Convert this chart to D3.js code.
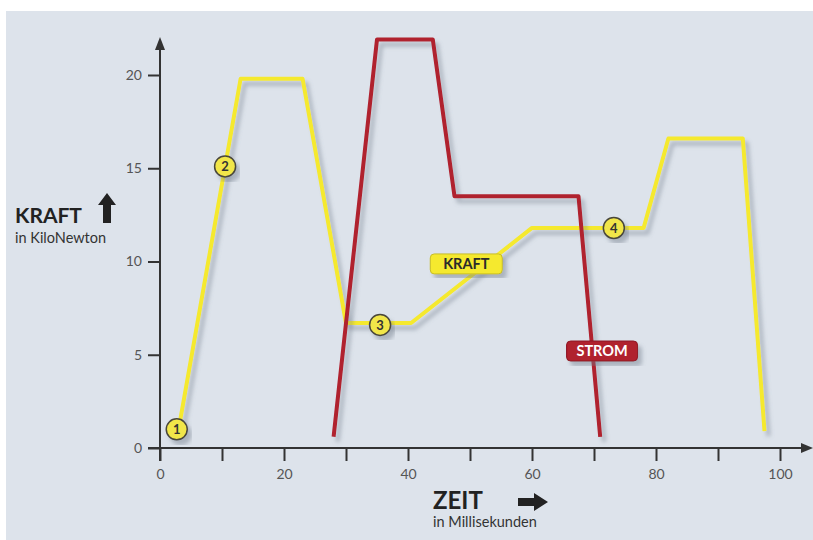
<!DOCTYPE html>
<html><head><meta charset="utf-8">
<script src="https://cdn.jsdelivr.net/npm/d3@7/dist/d3.min.js"></script>
<style>html,body{margin:0;padding:0;background:#fff;}svg{display:block;}</style>
</head><body><svg id="c" width="813" height="540"></svg>
<script>
// ---- data ----
const kraftTime  = [3, 13, 23, 30, 40.5, 60, 78, 82, 94, 97.5];
const kraftValue = [1.0, 19.8, 19.8, 6.7, 6.7, 11.8, 11.8, 16.6, 16.6, 0.9];
const stromTime  = [28, 35, 44, 47.5, 67.5, 71];
const stromValue = [0.6, 21.9, 21.9, 13.5, 13.5, 0.6];
const markerLabels = ["1", "2", "3", "4"];
const markerTime   = [2.7, 10.5, 35.5, 73.2];
const markerValue  = [1.0, 15.1, 6.6, 11.8];
const xTicks = [0, 10, 20, 30, 40, 50, 60, 70, 80, 90, 100];
const xTickLabels = ["0", "", "20", "", "40", "", "60", "", "80", "", "100"];
const yTicks = [0, 5, 10, 15, 20];
const seriesNames = ["KRAFT", "STROM"];

const FONT = "Lato, 'Open Sans', sans-serif";
const svg = d3.select("#c");
const x = d3.scaleLinear().domain([0, 100]).range([160, 780]);
const y = d3.scaleLinear().domain([0, 20]).range([448, 75]);

// background
svg.append("rect").attr("x", 6).attr("y", 11).attr("width", 807).attr("height", 529).attr("fill", "#dde3eb");

const defs = svg.append("defs");
const f = defs.append("filter").attr("id", "sh").attr("x", "-20%").attr("y", "-20%").attr("width", "140%").attr("height", "140%");
f.append("feDropShadow").attr("dx", 4).attr("dy", 5).attr("stdDeviation", 2.2)
  .attr("flood-color", "#6f7886").attr("flood-opacity", 0.45);

// axes
const axisCol = "#333";
const gx = svg.append("g").attr("transform", "translate(0,448)")
  .call(d3.axisBottom(x).tickValues(xTicks).tickSize(13).tickPadding(8)
    .tickFormat((d, i) => xTickLabels[i]));
const gy = svg.append("g").attr("transform", "translate(160,0)")
  .call(d3.axisLeft(y).tickValues(yTicks).tickSize(12).tickPadding(6));
[gx, gy].forEach(g => {
  g.select(".domain").remove();
  g.selectAll(".tick line").attr("stroke", axisCol).attr("stroke-width", 2);
  g.selectAll(".tick text").attr("fill", "#555").attr("font-size", 14).attr("font-family", FONT);
});
// axis lines with arrows
svg.append("line").attr("x1", 148).attr("x2", 804).attr("y1", 448).attr("y2", 448)
  .attr("stroke", axisCol).attr("stroke-width", 2);
svg.append("path").attr("d", "M813,448 L801,443 L801,453 Z").attr("fill", axisCol);
svg.append("line").attr("x1", 160).attr("x2", 160).attr("y1", 461).attr("y2", 46)
  .attr("stroke", axisCol).attr("stroke-width", 2);
svg.append("path").attr("d", "M160,37 L155,50 L165,50 Z").attr("fill", axisCol);

// lines
const line = d3.line().x(d => x(d[0])).y(d => y(d[1]));
const kraftPts = kraftTime.map((t, i) => [t, kraftValue[i]]);
const stromPts = stromTime.map((t, i) => [t, stromValue[i]]);
svg.append("path").datum(kraftPts).attr("d", line).attr("fill", "none")
  .attr("stroke", "#f5e92e").attr("stroke-width", 4).attr("stroke-linejoin", "round").attr("filter", "url(#sh)");
svg.append("path").datum(stromPts).attr("d", line).attr("fill", "none")
  .attr("stroke", "#b0202e").attr("stroke-width", 4).attr("stroke-linejoin", "round").attr("filter", "url(#sh)");

// numbered markers
const mg = svg.selectAll("g.mk").data(markerLabels).enter().append("g")
  .attr("transform", (d, i) => `translate(${x(markerTime[i])},${y(markerValue[i])})`);
mg.append("circle").attr("r", 10.5).attr("fill", "#f1e64a").attr("stroke", "#4a473a").attr("stroke-width", 1.5)
  .attr("filter", "url(#sh)");
mg.append("text").text(d => d).attr("text-anchor", "middle").attr("dy", "0.36em")
  .attr("font-size", 13).attr("font-weight", "bold").attr("font-family", FONT).attr("fill", "#333");

// series label boxes
function tag(name, t, v, w, bg, fg) {
  const g = svg.append("g").attr("transform", `translate(${x(t)},${y(v)})`);
  g.append("rect").attr("x", -w / 2).attr("y", -10).attr("width", w).attr("height", 20).attr("rx", 4)
    .attr("fill", bg).attr("stroke", d3.color(bg).darker(0.6)).attr("stroke-width", 1).attr("filter", "url(#sh)");
  g.append("text").text(name).attr("text-anchor", "middle").attr("dy", "0.36em")
    .attr("font-size", 14.5).attr("font-weight", "bold").attr("font-family", FONT).attr("fill", fg);
}
tag(seriesNames[0], 49.4, 9.87, 72, "#f5e92e", "#2b2b2b");
tag(seriesNames[1], 71.3, 5.2, 71, "#b0202e", "#ffffff");

// axis titles
svg.append("text").attr("x", 15).attr("y", 223).text("KRAFT")
  .attr("font-size", 21).attr("font-weight", "bold").attr("font-family", FONT).attr("fill", "#222");
svg.append("path").attr("d", "M107,193 L116,205 L111,205 L111,223 L103,223 L103,205 L98,205 Z").attr("fill", "#222");
svg.append("text").attr("x", 15).attr("y", 243).text("in KiloNewton")
  .attr("font-size", 14.5).attr("font-family", FONT).attr("fill", "#333");

svg.append("text").attr("x", 433).attr("y", 509).text("ZEIT")
  .attr("font-size", 24).attr("font-weight", "bold").attr("font-family", FONT).attr("fill", "#222");
svg.append("path").attr("d", "M518,498 L534,498 L534,493 L548,502 L534,511 L534,506 L518,506 Z").attr("fill", "#222");
svg.append("text").attr("x", 433).attr("y", 527).text("in Millisekunden")
  .attr("font-size", 14.5).attr("font-family", FONT).attr("fill", "#333");
</script></body></html>
